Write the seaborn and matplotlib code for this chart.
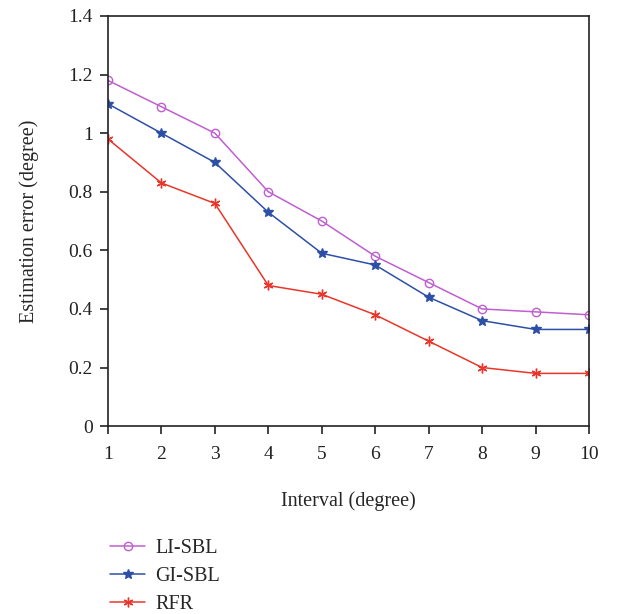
import numpy as np
import pandas as pd
import matplotlib
matplotlib.use("Agg")
import matplotlib.pyplot as plt
import seaborn as sns
from matplotlib.ticker import FuncFormatter

interval = [1, 2, 3, 4, 5, 6, 7, 8, 9, 10]
li_sbl = [1.18, 1.09, 1.00, 0.80, 0.70, 0.58, 0.49, 0.40, 0.39, 0.38]
gi_sbl = [1.10, 1.00, 0.90, 0.73, 0.59, 0.55, 0.44, 0.36, 0.33, 0.33]
rfr = [0.98, 0.83, 0.76, 0.48, 0.45, 0.38, 0.29, 0.20, 0.18, 0.18]

methods = ["LI-SBL", "GI-SBL", "RFR"]
colors = ["#bf5fd0", "#2d4fa6", "#e8372a"]
markers = ["o", "*", (6, 2, 0)]

df = pd.DataFrame({"Interval": interval * 3,
                   "Error": li_sbl + gi_sbl + rfr,
                   "Method": np.repeat(methods, len(interval))})

sns.set_style("ticks")
plt.rcParams["font.family"] = ["Liberation Serif", "DejaVu Serif"]

fig = plt.figure(figsize=(6.17, 6.14), dpi=100)
ax = fig.add_axes([0.175, 0.306, 0.7796, 0.668])

for m, c, mk in zip(methods, colors, markers):
    sub = df[df["Method"] == m]
    sns.lineplot(data=sub, x="Interval", y="Error", ax=ax, color=c, label=m,
                 marker=mk, markersize=7 if mk != "o" else 6,
                 markerfacecolor="none" if mk == "o" else c,
                 markeredgecolor=c, markeredgewidth=1.0, linewidth=1.1)

ax.set_xlim(1, 10)
ax.set_ylim(0, 1.4)
ax.set_xticks(interval)
ax.set_yticks(np.arange(0, 1.41, 0.2))
ax.yaxis.set_major_formatter(FuncFormatter(lambda v, p: f"{v:g}"))
for s in ax.spines.values():
    s.set_linewidth(1.2)
    s.set_color("#222222")
ax.tick_params(direction="out", length=6, width=1.2, labelsize=14, colors="#222222")
ax.tick_params(axis="x", pad=8)
ax.tick_params(axis="y", pad=5)
ax.set_xlabel("Interval (degree)", fontsize=14.5, labelpad=21)
ax.set_ylabel("Estimation error (degree)", fontsize=14.5, labelpad=21)

handles, labels = ax.get_legend_handles_labels()
ax.get_legend().remove()
fig.legend(handles, labels, loc="upper left", bbox_to_anchor=(0.149, 0.152),
           frameon=False, fontsize=14.5, handlelength=1.75, labelspacing=0.45,
           handletextpad=0.5)

fig.savefig("out.png", dpi=100)
